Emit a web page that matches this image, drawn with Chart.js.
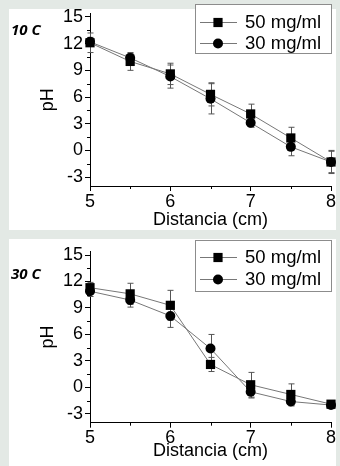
<!DOCTYPE html>
<html>
<head>
<meta charset="utf-8">
<script src="https://cdn.jsdelivr.net/npm/chart.js@4"></script>
<style>
  body { margin: 0; background: #e3e9e5; width: 340px; height: 466px; position: relative; overflow: hidden; }
  .panel { position: absolute; left: 9px; width: 327px; background: #fff; }
  #p1 { top: 9px; height: 221px; }
  #p2 { top: 239px; height: 227px; }
  canvas { position: absolute; left: 0; }
  #c1 { top: 0; }
  #c2 { top: 232px; }
  .tag { position: absolute; left: 11px; font: italic bold 15px "Open Sans", sans-serif; color: #000; line-height: 18px; }
</style>
</head>
<body>
<div class="panel" id="p1"></div>
<div class="panel" id="p2"></div>
<canvas id="c1" width="340" height="232"></canvas>
<canvas id="c2" width="340" height="234"></canvas>
<div class="tag" style="top:20px">10 C</div>
<div class="tag" style="top:264px">30 C</div>
<script>
// data
const distance = [5, 5.5, 6, 6.5, 7, 7.5, 8];
const seriesNames = ['50 mg/ml', '30 mg/ml'];

const ph10_50 = [12.1, 10.0, 8.6, 6.3, 4.1, 1.4, -1.3];
const err10_50 = [1.1, 1.0, 1.2, 1.3, 1.1, 1.2, 1.3];
const ph10_30 = [12.2, 10.4, 8.3, 5.8, 3.1, 0.4, -1.3];
const err10_30 = [0.5, 0.5, 1.3, 1.7, 0.5, 1.0, 1.2];

const ph30_50 = [11.3, 10.6, 9.3, 2.6, 0.3, -0.8, -1.9];
const err30_50 = [0.6, 1.2, 1.7, 0.8, 1.4, 1.2, 0.4];
const ph30_30 = [10.9, 9.9, 8.1, 4.4, -0.5, -1.6, -2.0];
const err30_30 = [0.6, 0.8, 1.3, 1.6, 0.7, 0.5, 0.4];

const xTicks = [5, 6, 7, 8];
const xMinor = [5.5, 6.5, 7.5];
const yTicks = [-3, 0, 3, 6, 9, 12, 15];
const yMinor = [-1.5, 1.5, 4.5, 7.5, 10.5, 13.5];

Chart.defaults.font.family = '"Liberation Sans", Arial, sans-serif';
Chart.defaults.font.size = 18;
Chart.defaults.color = '#000';

const errorBars = {
  id: 'errorBars',
  beforeDatasetsDraw(chart) {
    const { ctx, scales: { x, y } } = chart;
    ctx.save();
    ctx.strokeStyle = '#555';
    ctx.lineWidth = 1;
    chart.data.datasets.forEach(ds => {
      ds.data.forEach((p, i) => {
        const px = Math.round(x.getPixelForValue(p.x)) + 0.5;
        const top = y.getPixelForValue(p.y + ds.errors[i]);
        const bot = y.getPixelForValue(p.y - ds.errors[i]);
        ctx.beginPath();
        ctx.moveTo(px, top); ctx.lineTo(px, bot);
        ctx.moveTo(px - 3, top); ctx.lineTo(px + 3, top);
        ctx.moveTo(px - 3, bot); ctx.lineTo(px + 3, bot);
        ctx.stroke();
      });
    });
    ctx.restore();
  }
};

const minorTicks = {
  id: 'minorTicks',
  afterDraw(chart) {
    const { ctx, scales: { x, y } } = chart;
    ctx.save();
    ctx.strokeStyle = '#000';
    ctx.lineWidth = 1;
    ctx.beginPath();
    xMinor.forEach(v => {
      const px = Math.round(x.getPixelForValue(v)) + 0.5;
      ctx.moveTo(px, y.bottom); ctx.lineTo(px, y.bottom + 3);
    });
    yMinor.forEach(v => {
      const py = Math.round(y.getPixelForValue(v)) + 0.5;
      ctx.moveTo(x.left, py); ctx.lineTo(x.left - 3, py);
    });
    ctx.stroke();
    ctx.restore();
  }
};

const boxLegend = {
  id: 'boxLegend',
  afterDraw(chart, args, opts) {
    const ctx = chart.ctx;
    ctx.save();
    ctx.fillStyle = '#fff';
    ctx.fillRect(opts.x, opts.y, opts.w, opts.h);
    ctx.strokeStyle = '#8c8c8c';
    ctx.lineWidth = 1;
    ctx.strokeRect(opts.x + 0.5, opts.y + 0.5, opts.w - 1, opts.h - 1);
    chart.data.datasets.forEach((ds, i) => {
      const cy = Math.round(opts.y + opts.rows[i]) + 0.5;
      ctx.strokeStyle = ds.borderColor;
      ctx.beginPath();
      ctx.moveTo(opts.x + 5, cy); ctx.lineTo(opts.x + 42, cy);
      ctx.stroke();
      ctx.fillStyle = '#000';
      Chart.helpers.drawPoint(ctx, { pointStyle: ds.pointStyle, radius: ds.pointRadius, borderWidth: 0, rotation: 0 }, opts.x + 23, cy);
      ctx.font = '18.5px "Liberation Sans", Arial, sans-serif';
      ctx.textBaseline = 'middle';
      ctx.fillText(ds.label, opts.x + 50, cy);
    });
    ctx.restore();
  }
};

function makeSeries(label, values, errors, style, radius) {
  return {
    label: label,
    data: distance.map((d, i) => ({ x: d, y: values[i] })),
    errors: errors,
    showLine: true,
    borderColor: '#777',
    borderWidth: 1,
    pointStyle: style,
    pointRadius: radius,
    pointBackgroundColor: '#000',
    pointBorderWidth: 0,
    clip: false
  };
}

function makeChart(id, datasets, layout) {
  return new Chart(document.getElementById(id), {
    type: 'scatter',
    data: { datasets: datasets },
    options: {
      responsive: false,
      animation: false,
      layout: { padding: { left: 0, right: 9, top: layout.top, bottom: 0 } },
      plugins: {
        legend: { display: false },
        tooltip: { enabled: false },
        boxLegend: layout.legend
      },
      scales: {
        x: {
          type: 'linear',
          min: 5,
          max: 8,
          afterBuildTicks: s => { s.ticks = xTicks.map(v => ({ value: v })); },
          afterFit: s => { s.height = layout.xHeight; },
          ticks: { padding: 0, maxRotation: 0, autoSkip: false, color: '#000' },
          grid: { drawOnChartArea: false, tickLength: 5, color: '#000' },
          border: { color: '#000', width: 1 },
          title: { display: true, text: 'Distancia (cm)', color: '#000', padding: { top: 0, bottom: layout.titlePad } }
        },
        y: {
          type: 'linear',
          min: -4,
          max: 15.4,
          afterBuildTicks: s => { s.ticks = yTicks.map(v => ({ value: v })); },
          afterFit: s => { s.width = 90; },
          ticks: { padding: 2, color: '#000' },
          grid: { drawOnChartArea: false, tickLength: 5, color: '#000' },
          border: { color: '#000', width: 1 },
          title: { display: true, text: 'pH', color: '#000', padding: { top: 37, bottom: 0 } }
        }
      }
    },
    plugins: [errorBars, minorTicks, boxLegend]
  });
}

makeChart('c1', [
  makeSeries(seriesNames[0], ph10_50, err10_50, 'rect', 6.5),
  makeSeries(seriesNames[1], ph10_30, err10_30, 'circle', 5)
], { top: 13.4, xHeight: 46, titlePad: 1.5, legend: { x: 195, y: 4, w: 137, h: 50, rows: [17.5, 39] } });

makeChart('c2', [
  makeSeries(seriesNames[0], ph30_50, err30_50, 'rect', 6.5),
  makeSeries(seriesNames[1], ph30_30, err30_30, 'circle', 5)
], { top: 19.5, xHeight: 43.3, titlePad: 4.5, legend: { x: 195, y: 8, w: 137, h: 52, rows: [16.5, 39] } });
</script>
</body>
</html>
